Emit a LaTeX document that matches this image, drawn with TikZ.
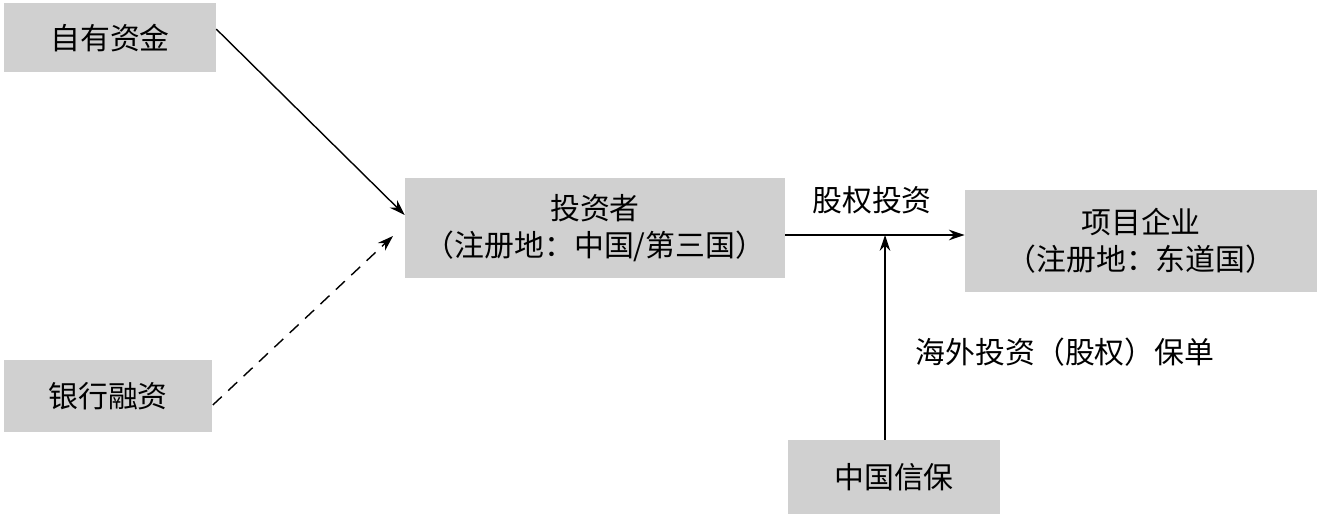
\documentclass[tikz,border=0pt]{standalone}
\usepackage{fontspec}
\setmainfont{Noto Sans CJK SC}
\usetikzlibrary{arrows.meta}
\definecolor{boxgray}{HTML}{D0D0D0}

\begin{document}
\begin{tikzpicture}[x=0.02cm,y=-0.02cm,text centered,font=\fontsize{17}{21}\selectfont]
  \useasboundingbox (0,0) rectangle (1317,516);
  \tikzset{gbox/.style={fill=boxgray,inner sep=0pt,align=center},
           arr/.style={-{Stealth[length=9pt,width=6pt]},thick}}

  \node (ZYZJ) at (110,38) [gbox,minimum width=4.24cm,minimum height=1.38cm] {自有资金};
  \node (YHRZ) at (108,396) [gbox,minimum width=4.18cm,minimum height=1.44cm] {银行融资};
  \node (TZZ) at (595,228) [gbox,minimum width=7.6cm,minimum height=2.02cm] {投资者\\（注册地：中国/第三国）};
  \node (XMQY) at (1141,241) [gbox,minimum width=7.04cm,minimum height=2.04cm] {项目企业\\（注册地：东道国）};
  \node (ZGXB) at (894,477) [gbox,minimum width=4.24cm,minimum height=1.48cm] {中国信保};

  \coordinate (DASHEND) at (393,236);
  \coordinate (JOIN) at (885,235);

  \draw[arr] (ZYZJ.north east) ++(0,26) -- (TZZ.west |- 0,215);
  \draw[arr,dash pattern=on 7pt off 5pt] (YHRZ.east) ++(0,9) -- (DASHEND);
  \draw[arr] (TZZ.east |- JOIN) -- (XMQY.west |- JOIN);
  \draw[arr] (ZGXB.north -| JOIN) -- (JOIN);

  \node (GQTZ) at (872,200) {股权投资};
  \node (BD) at (1065,352) {海外投资（股权）保单};

\end{tikzpicture}
\end{document}
